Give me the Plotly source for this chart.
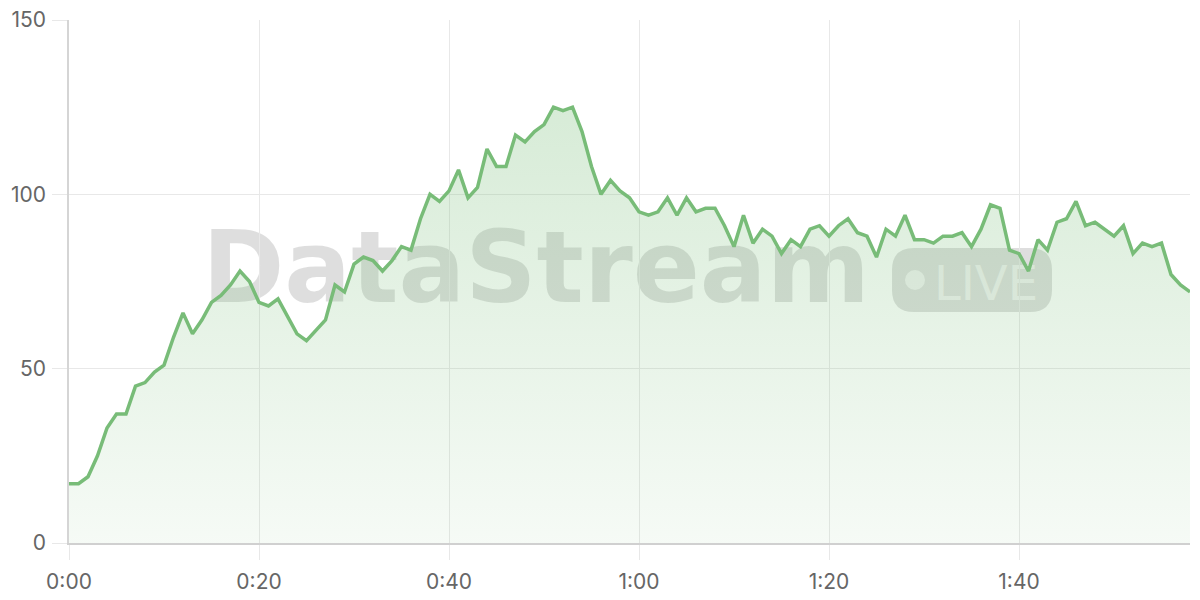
import plotly.graph_objects as go

# ---- data ----
seconds = list(range(119))
values = [17, 17, 19, 25, 33, 37, 37, 45, 46, 49,
          51, 59, 66, 60, 64, 69, 71, 74, 78, 75,
          69, 68, 70, 65, 60, 58, 61, 64, 74, 72,
          80, 82, 81, 78, 81, 85, 84, 93, 100, 98,
          101, 107, 99, 102, 113, 108, 108, 117, 115, 118,
          120, 125, 124, 125, 118, 108, 100, 104, 101, 99,
          95, 94, 95, 99, 94, 99, 95, 96, 96, 91,
          85, 94, 86, 90, 88, 83, 87, 85, 90, 91,
          88, 91, 93, 89, 88, 82, 90, 88, 94, 87,
          87, 86, 88, 88, 89, 85, 90, 97, 96, 84,
          83, 78, 87, 84, 92, 93, 98, 91, 92, 90,
          88, 91, 83, 86, 85, 86, 77, 74, 72]
x_tick_vals = [0, 20, 40, 60, 80, 100]
x_tick_text = ["0:00", "0:20", "0:40", "1:00", "1:20", "1:40"]
y_tick_vals = [0, 50, 100, 150]
watermark_text = "DataStream"
badge_text = "LIVE"

# ---- layout (page has an 8px body margin) ----
OFF = 8
W, H = 1192, 592
L, R, T, B = 69, 1190, 20, 543          # target plot area in page pixels
def px(x):
    return (x - L) / (R - L)
def py(y):
    return (B - y) / (B - T)

fig = go.Figure()
fig.add_trace(go.Scatter(
    x=seconds, y=values, mode="lines",
    line=dict(color="#78bc78", width=3.5, shape="linear"),
    fill="tozeroy",
    fillgradient=dict(type="vertical", start=0, stop=125,
                      colorscale=[[0, "rgba(122,190,122,0.07)"],
                                  [1, "rgba(122,190,122,0.30)"]]),
    hoverinfo="skip", showlegend=False,
))

def rounded_rect(x0, y0, x1, y1, r):
    def P(x, y):
        return f"{px(x):.5f},{py(y):.5f}"
    return (f"M {P(x0 + r, y0)} L {P(x1 - r, y0)} Q {P(x1, y0)} {P(x1, y0 + r)} "
            f"L {P(x1, y1 - r)} Q {P(x1, y1)} {P(x1 - r, y1)} "
            f"L {P(x0 + r, y1)} Q {P(x0, y1)} {P(x0, y1 - r)} "
            f"L {P(x0, y0 + r)} Q {P(x0, y0)} {P(x0 + r, y0)} Z")

shapes = [
    dict(type="rect", xref="paper", yref="paper", layer="below",
         x0=px(186), x1=px(886), y0=py(308), y1=py(212),
         line=dict(width=0), fillcolor="rgba(0,0,0,0)",
         label=dict(text=watermark_text, textposition="middle center",
                    font=dict(family="DejaVu Sans", size=99, weight=700,
                              color="rgba(0,0,0,0.13)"))),
    dict(type="path", xref="paper", yref="paper", layer="below",
         path=rounded_rect(892, 248, 1052, 312, 22),
         line=dict(width=0), fillcolor="rgba(0,0,0,0.13)"),
    dict(type="circle", xref="paper", yref="paper", layer="below",
         x0=px(905), x1=px(925), y0=py(290), y1=py(270),
         line=dict(width=0), fillcolor="rgba(255,255,255,0.6)"),
    dict(type="rect", xref="paper", yref="paper", layer="below",
         x0=px(930), x1=px(1042), y0=py(306), y1=py(254),
         line=dict(width=0), fillcolor="rgba(0,0,0,0)",
         label=dict(text=badge_text, textposition="middle center",
                    font=dict(family="DejaVu Sans", size=48,
                              color="rgba(255,255,255,0.6)"))),
]

fig.update_layout(
    width=W, height=H,
    margin=dict(l=L - OFF, r=W - (R - OFF), t=T - OFF, b=H - (B - OFF),
                autoexpand=False),
    paper_bgcolor="white", plot_bgcolor="white",
    shapes=shapes,
    font=dict(family="Inter", size=21, color="#666666"),
    xaxis=dict(range=[0, 118], tickvals=x_tick_vals, ticktext=x_tick_text,
               showgrid=True, gridcolor="#e8e8e8", gridwidth=1,
               ticks="outside", ticklen=15, tickcolor="#e8e8e8",
               showline=True, linecolor="#d0d0d0", linewidth=1.5,
               zeroline=False, fixedrange=True, ticklabelstandoff=4,
               ticklabeloverflow="allow"),
    yaxis=dict(range=[0, 150], tickvals=y_tick_vals,
               showgrid=True, gridcolor="#e8e8e8", gridwidth=1,
               ticks="outside", ticklen=15, tickcolor="#e8e8e8",
               showline=True, linecolor="#d5d5d5", linewidth=1.5,
               zeroline=False, fixedrange=True, ticklabelstandoff=2,
               ticklabeloverflow="allow"),
)

fig.write_html("out.html")
